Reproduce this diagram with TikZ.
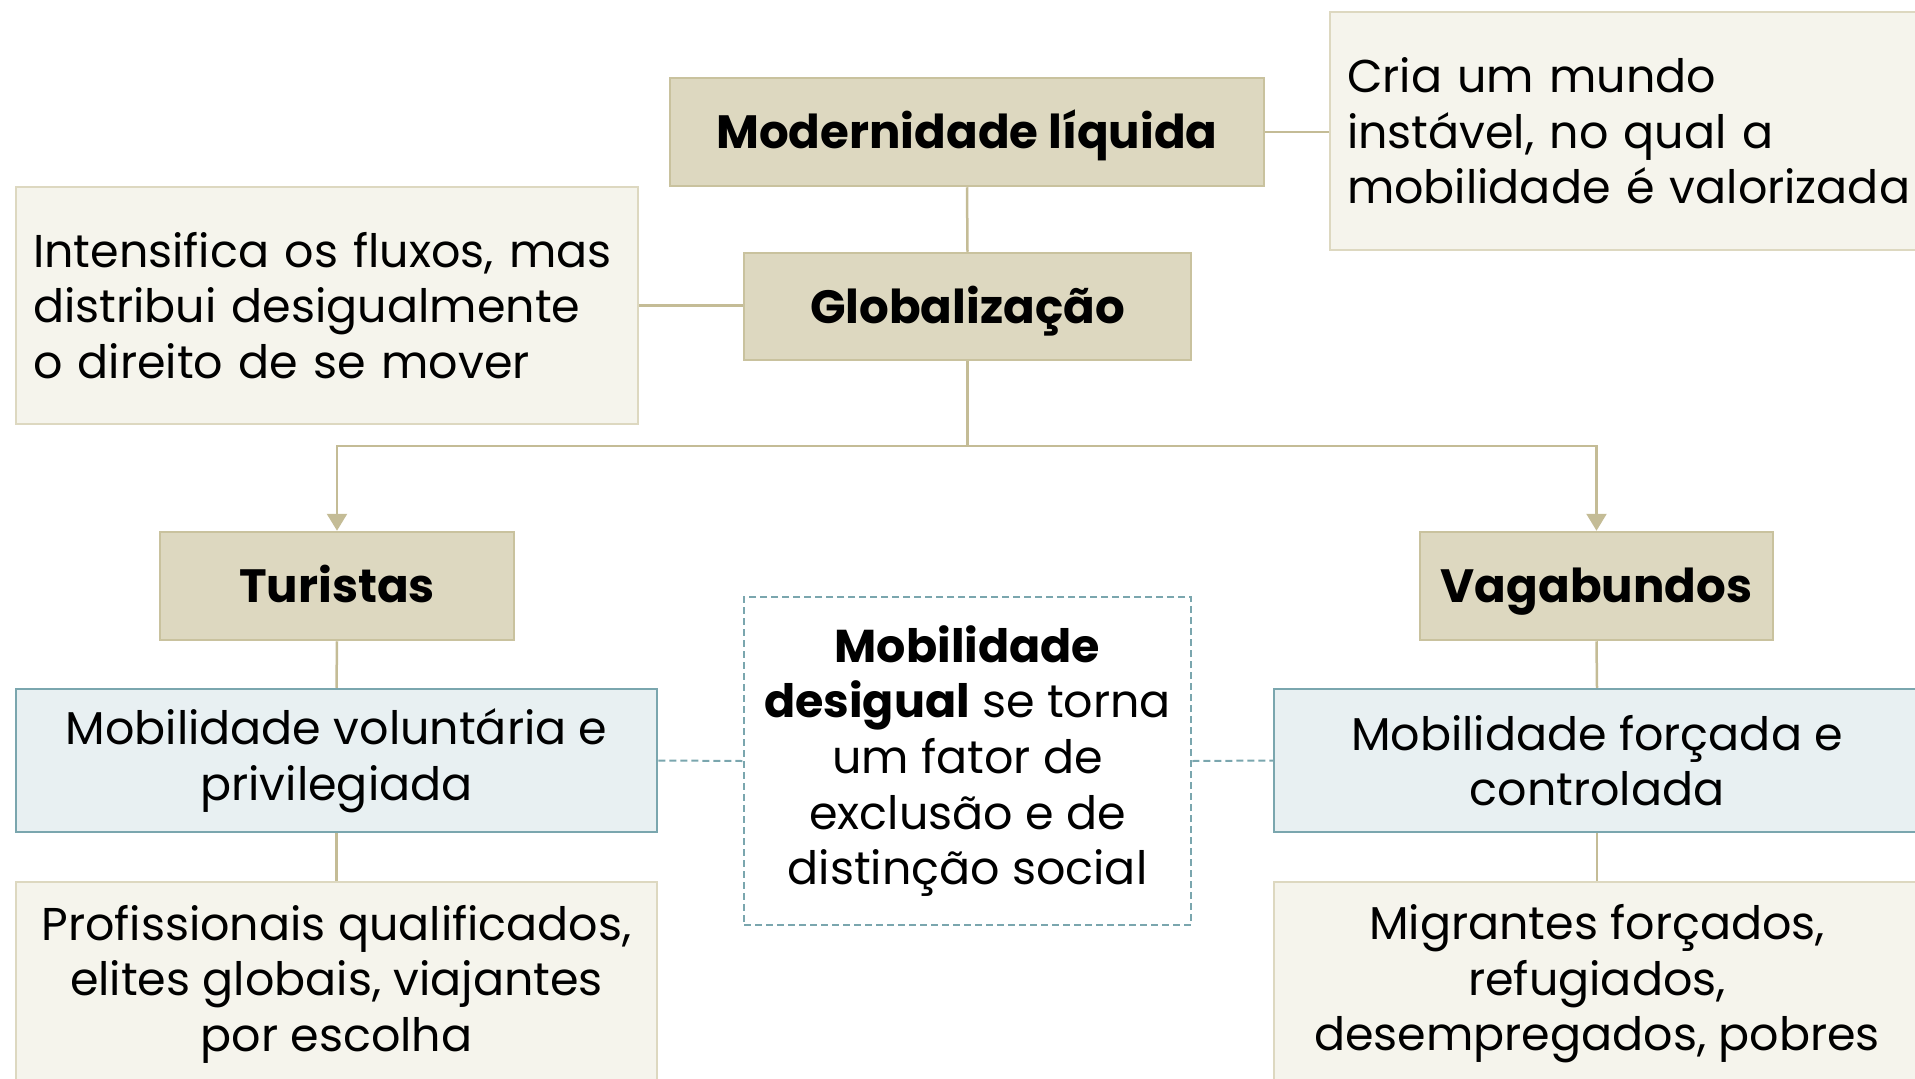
\documentclass[tikz,border=0pt]{standalone}
\usepackage{fontspec}
\setmainfont{Poppins}
\usetikzlibrary{arrows.meta}
\definecolor{tanfill}{HTML}{DDD8C0}
\definecolor{tanline}{HTML}{C9C29E}
\definecolor{lightfill}{HTML}{F5F4EC}
\definecolor{lightline}{HTML}{DDD8C0}
\definecolor{bluefill}{HTML}{E8F0F2}
\definecolor{blueline}{HTML}{7AA6AE}
\definecolor{conn}{HTML}{C4BC96}
\tikzset{
  base/.style={rectangle, inner sep=0pt, line width=2.5pt, font=\fontsize{46}{55.6}\selectfont},
  title/.style={base, fill=tanfill, draw=tanline, font=\fontsize{46.7}{55.6}\selectfont\bfseries, text height=33pt, text depth=0pt},
  note/.style={base, fill=lightfill, draw=lightline},
  bluebox/.style={base, fill=bluefill, draw=blueline},
  dashbox/.style={base, fill=white, draw=blueline, dashed, dash pattern=on 7pt off 4pt},
  link/.style={draw=conn, line width=2.5pt},
  dlink/.style={draw=blueline, line width=2pt, dash pattern=on 7pt off 4pt},
  arr/.style={link, -{Triangle[width=20pt,length=17pt]}, conn},
}
\begin{document}
\begin{tikzpicture}[x=1pt,y=1pt]
\useasboundingbox (0,0) rectangle (1915,-1079);
\clip (0,0) rectangle (1915,-1079);
\node[title, minimum width=594pt, minimum height=108pt] (mod) at (967,-132) {Modernidade líquida};
\node[title, minimum width=447pt, minimum height=107pt] (glob) at (967.5,-306.5) {Globalização};
\node[note, minimum width=600pt, minimum height=238pt, text width=566pt, align=left] (cria) at (1630,-131) {Cria um mundo\\instável, no qual a\\mobilidade é valorizada};
\node[note, minimum width=622pt, minimum height=237pt, text width=588pt, align=left] (intens) at (327,-305.5) {Intensifica os fluxos, mas\\distribui desigualmente\\o direito de se mover};
\node[title, minimum width=354pt, minimum height=108pt] (tur) at (337,-586) {Turistas};
\node[title, minimum width=353pt, minimum height=108pt] (vag) at (1596.5,-586) {Vagabundos};
\node[bluebox, minimum width=641pt, minimum height=143pt, align=center] (vol) at (336.5,-760.5) {Mobilidade voluntária e\\privilegiada};
\node[bluebox, minimum width=646pt, minimum height=143pt, align=center] (forc) at (1597,-760.5) {Mobilidade forçada e\\controlada};
\node[dashbox, minimum width=447pt, minimum height=328pt, align=center] (cent) at (967.5,-761) {\textbf{Mobilidade}\\\textbf{desigual} se torna\\um fator de\\exclusão e de\\distinção social};
\node[note, minimum width=641pt, minimum height=204pt, align=center] (prof) at (336.5,-984) {Profissionais qualificados,\\elites globais, viajantes\\por escolha};
\node[note, minimum width=646pt, minimum height=204pt, align=center] (migr) at (1597,-984) {Migrantes forçados,\\refugiados,\\desempregados, pobres};
\coordinate (split) at (967.5,-446);
\draw[link] (mod.south) -- (glob.north);
\draw[link] (mod.east) -- (mod.east -| cria.west);
\draw[link] (intens.east) -- (intens.east -| glob.west);
\draw[link] (glob.south) -- (split);
\draw[arr] (split) -| (tur.north);
\draw[arr] (split) -| (vag.north);
\draw[link] (tur.south) -- (vol.north);
\draw[link] (vol.south) -- (prof.north);
\draw[link] (vag.south) -- (forc.north);
\draw[link] (forc.south) -- (migr.north);
\draw[dlink] (vol.east) -- (cent.west);
\draw[dlink] (cent.east) -- (forc.west);
\end{tikzpicture}
\end{document}
